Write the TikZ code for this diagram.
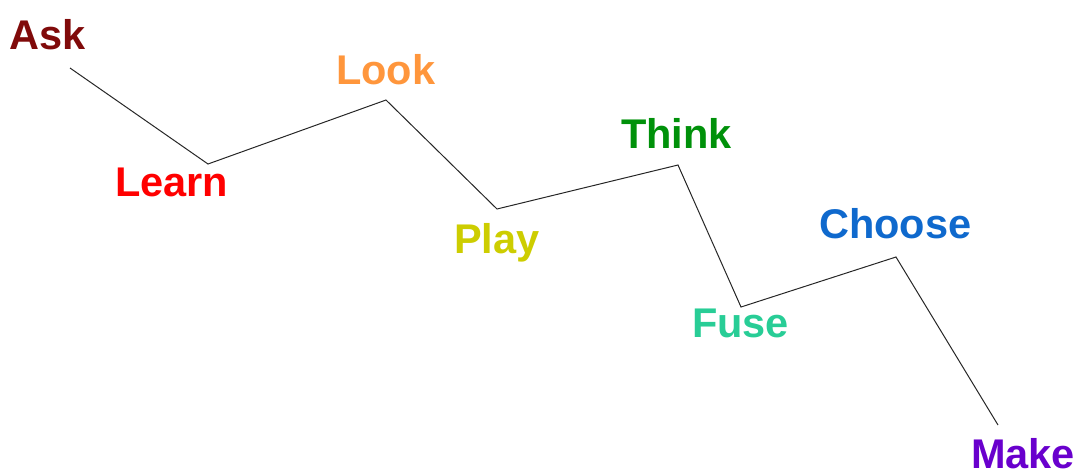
\documentclass[tikz,border=0pt]{standalone}
\usepackage{fontspec}
\setmainfont{Liberation Sans}
\begin{document}
\begin{tikzpicture}[x=1pt,y=-1pt,
  word/.style={anchor=base west,inner sep=0pt,font=\fontsize{41.5}{42}\selectfont\bfseries},
  path line/.style={draw=black!85,line width=1pt,line join=miter}]
\definecolor{cAsk}{RGB}{128,10,10}
\definecolor{cLearn}{RGB}{255,0,0}
\definecolor{cLook}{RGB}{255,150,60}
\definecolor{cPlay}{RGB}{205,205,0}
\definecolor{cThink}{RGB}{0,145,10}
\definecolor{cFuse}{RGB}{40,205,150}
\definecolor{cChoose}{RGB}{15,105,205}
\definecolor{cMake}{RGB}{105,0,205}
\useasboundingbox (0,0) rectangle (1077,475);
% zig-zag vertices
\coordinate (p0) at (70,68);
\coordinate (p1) at (208,164);
\coordinate (p2) at (386,100);
\coordinate (p3) at (497,209);
\coordinate (p4) at (678,165);
\coordinate (p5) at (741,307);
\coordinate (p6) at (896,257);
\coordinate (p7) at (998,425);
\draw[path line] (p0) -- (p1) -- (p2) -- (p3) -- (p4) -- (p5) -- (p6) -- (p7);
% labels
\node[word,text=cAsk]    (ask)    at (9,49)    {Ask};
\node[word,text=cLearn]  (learn)  at (115,196) {Learn};
\node[word,text=cLook]   (look)   at (336,84)  {Look};
\node[word,text=cPlay]   (play)   at (454,253) {Play};
\node[word,text=cThink]  (think)  at (621,148) {Think};
\node[word,text=cFuse]   (fuse)   at (692,337) {Fuse};
\node[word,text=cChoose] (choose) at (819,238) {Choose};
\node[word,text=cMake]   (make)   at (971,468) {Make};
\end{tikzpicture}
\end{document}
